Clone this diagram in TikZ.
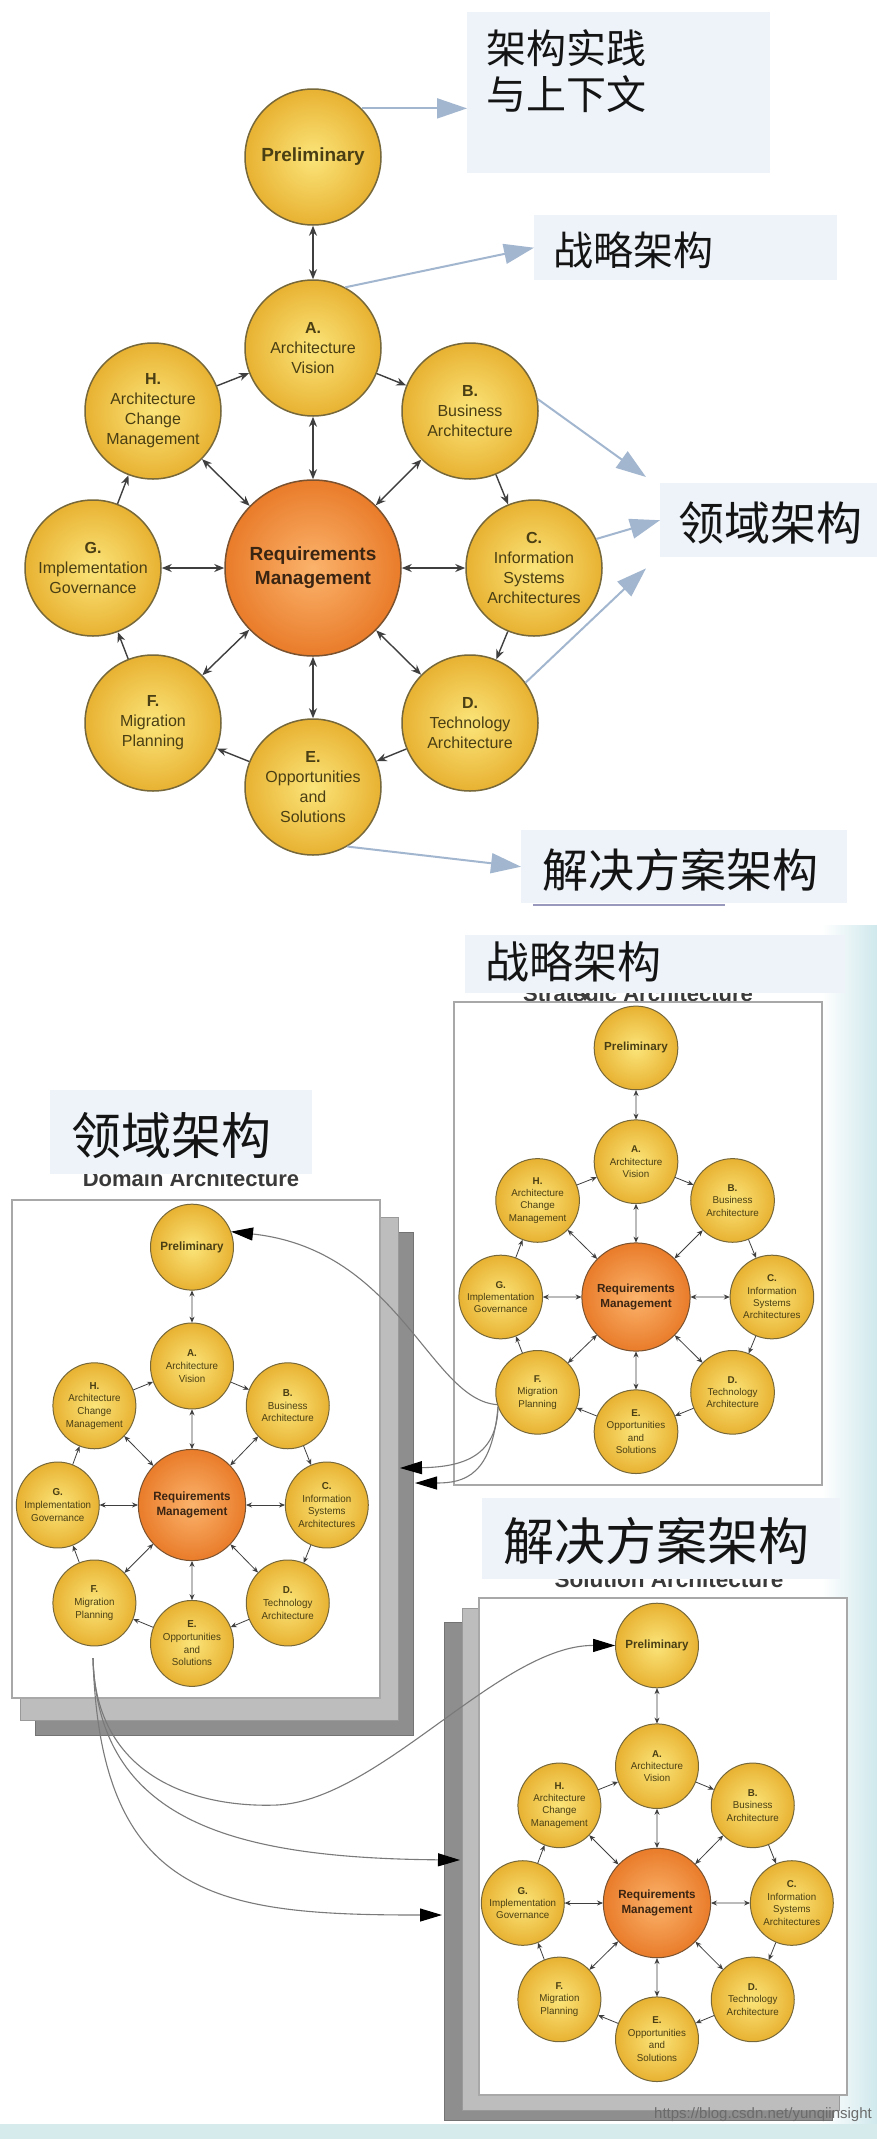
\documentclass[tikz,border=0pt]{standalone}
\usepackage{fontspec}
\setmainfont{Liberation Sans}
\newfontfamily\cjk{Noto Sans CJK SC}
\usetikzlibrary{arrows.meta}
\definecolor{ylin}{HTML}{FBE57A}
\definecolor{ylout}{HTML}{E8B232}
\definecolor{ylbd}{HTML}{76683A}
\definecolor{orin}{HTML}{FBB36C}
\definecolor{orout}{HTML}{E97C2A}
\definecolor{orbd}{HTML}{7A5230}
\definecolor{tgtext}{HTML}{4A3F14}
\definecolor{rqtext}{HTML}{3A2412}
\definecolor{tgarrow}{HTML}{3F3F3F}
\definecolor{boxblue}{HTML}{EDF3F9}
\definecolor{bigarrowc}{HTML}{A2B7CF}
\definecolor{shlight}{HTML}{BDBDBD}
\definecolor{shdark}{HTML}{8E8E8E}
\definecolor{framegray}{HTML}{A8A8A8}
\definecolor{curvegray}{HTML}{7A7A7A}
\definecolor{decocyan}{HTML}{CFE8EC}
\definecolor{stripcyan}{HTML}{D6ECEC}
\definecolor{entext}{HTML}{3A3A3A}
\tikzset{
  yc/.style={circle, inner sep=0pt, minimum size=136pt, shade, inner color=ylin, outer color=ylout, draw=ylbd, text=tgtext, align=center, font=\fontsize{16}{20}\selectfont},
  ycT/.style={yc, line width=1.5pt},
  ycS/.style={yc, line width=1pt},
  rc/.style={circle, inner sep=0pt, minimum size=176pt, shade, inner color=orin, outer color=orout, draw=orbd, text=rqtext, align=center, font=\bfseries\fontsize{19}{24}\selectfont},
  rcT/.style={rc, line width=1.5pt},
  rcS/.style={rc, line width=1pt},
  tgaT/.style={draw=tgarrow, line width=1.4pt, -{Stealth[length=10pt,width=8pt]}},
  tgbT/.style={draw=tgarrow, line width=1.4pt, {Stealth[length=10pt,width=8pt]}-{Stealth[length=10pt,width=8pt]}},
  tgaS/.style={draw=tgarrow, line width=0.8pt, -{Stealth[length=6pt,width=5pt]}},
  tgbS/.style={draw=tgarrow, line width=0.8pt, {Stealth[length=6pt,width=5pt]}-{Stealth[length=6pt,width=5pt]}},
  lbox/.style={fill=boxblue, inner sep=0pt, draw=none},
  zh/.style={inner sep=0pt, text=black!92},
  entitle/.style={inner sep=0pt, text=entext, font=\bfseries\fontsize{22}{22}\selectfont},
  bigarrow/.style={draw=bigarrowc, line width=2pt, -{Triangle[length=30pt,width=20pt]}},
  curvearrow/.style={draw=curvegray, line width=1.1pt, -{Triangle[length=22pt,width=13pt,color=black]}},
  frontframe/.style={draw=framegray, fill=white, line width=1.2pt},
}
\newcommand{\togaf}[6]{%
  \begin{scope}[shift={#2}, xscale=#3, yscale=#4, transform shape]
    \node[yc#6] (#1-P) at (0,#5) {\bfseries\fontsize{19}{24}\selectfont Preliminary};
    \node[yc#6] (#1-A) at (0,-220) {\textbf{A.}\\Architecture\\Vision};
    \node[yc#6] (#1-B) at (157,-157) {\textbf{B.}\\Business\\Architecture};
    \node[yc#6] (#1-C) at (221,0) {\textbf{C.}\\Information\\Systems\\Architectures};
    \node[yc#6] (#1-D) at (157,155) {\textbf{D.}\\Technology\\Architecture};
    \node[yc#6] (#1-E) at (0,219) {\textbf{E.}\\Opportunities\\and\\Solutions};
    \node[yc#6] (#1-F) at (-160,155) {\textbf{F.}\\Migration\\Planning};
    \node[yc#6] (#1-G) at (-220,0) {\textbf{G.}\\Implementation\\Governance};
    \node[yc#6] (#1-H) at (-160,-157) {\textbf{H.}\\Architecture\\Change\\Management};
    \node[rc#6] (#1-R) at (0,0) {Requirements\\Management};
  \end{scope}
  \draw[tgb#6] (#1-P) -- (#1-A);
  \foreach \n in {A,B,C,D,E,F,G,H} {\draw[tgb#6] (#1-R) -- (#1-\n);}
  \draw[tga#6] (#1-A) -- (#1-B);
  \draw[tga#6] (#1-B) -- (#1-C);
  \draw[tga#6] (#1-C) -- (#1-D);
  \draw[tga#6] (#1-D) -- (#1-E);
  \draw[tga#6] (#1-E) -- (#1-F);
  \draw[tga#6] (#1-F) -- (#1-G);
  \draw[tga#6] (#1-G) -- (#1-H);
  \draw[tga#6] (#1-H) -- (#1-A);
}
\begin{document}
\begin{tikzpicture}[x=1pt,y=-1pt]
\useasboundingbox (0,0) rectangle (877,2139);
\fill[white] (0,0) rectangle (877,2139);
\shade[left color=white, right color=decocyan] (822,925) rectangle (877,2124);
\fill[stripcyan] (0,2124) rectangle (877,2139);

% ---------- top section ----------
\node[lbox, anchor=north west, minimum width=303pt, minimum height=161pt] (b1) at (467,12) {};
\node[lbox, anchor=north west, minimum width=303pt, minimum height=65pt] (b2) at (534,215) {};
\node[lbox, anchor=north west, minimum width=217pt, minimum height=74pt] (b3) at (660,483) {};
\node[lbox, anchor=north west, minimum width=326pt, minimum height=73pt] (b4) at (521,830) {};
\draw[line width=1.5pt, draw=black!65!blue!40] (533,905) -- (725,905);

\node[zh, anchor=base west, font=\cjk\fontsize{40}{40}\selectfont] (z1) at (486,63) {架构实践};
\node[zh, anchor=base west, font=\cjk\fontsize{40}{40}\selectfont] (z2) at (486,109) {与上下文};
\node[zh, anchor=base west, font=\cjk\fontsize{40}{40}\selectfont] (z3) at (553,265) {战略架构};
\node[zh, anchor=base west, font=\cjk\fontsize{46}{46}\selectfont] (z4) at (678,540) {领域架构};
\node[zh, anchor=base west, font=\cjk\fontsize{46}{46}\selectfont] (z5) at (542,887) {解决方案架构};

\togaf{t}{(313,568)}{1}{1}{-411}{T}

\draw[bigarrow] (t-P.45) -- (t-P.45 -| b1.west);
\draw[bigarrow] (t-A.62) -- (b2.west);
\draw[bigarrow] (t-B.10) -- ([xshift=-14pt,yshift=6pt]b3.north west);
\draw[bigarrow] (t-C.25) -- (b3.west);
\draw[bigarrow] (t-D.36) -- ([xshift=-14pt,yshift=-11pt]b3.south west);
\draw[bigarrow] (t-E.-60) -- (b4.west);

% ---------- strategic ----------
\node[entitle, anchor=base] (sen) at (638,1001) {Strategic Architecture};
\node[lbox, anchor=north west, minimum width=380pt, minimum height=58pt] (sb) at (465,935) {};
\node[zh, anchor=base west, font=\cjk\fontsize{44}{44}\selectfont] (sz) at (485,978) {战略架构};
\draw[frontframe] (454,1002) rectangle (822,1485);
\fill[black!75] (580,994) -- (590,994) -- (585,1001) -- cycle;
\togaf{s}{(636,1297)}{0.615}{0.615}{-405}{S}

% ---------- domain ----------
\node[entitle, anchor=base] (den) at (191,1186) {Domain Architecture};
\node[lbox, anchor=north west, minimum width=262pt, minimum height=84pt] (db) at (50,1090) {};
\node[zh, anchor=base west, font=\cjk\fontsize{50}{50}\selectfont] (dz) at (71,1154) {领域架构};
\fill[shdark, draw=black!55] (35,1232) rectangle (413,1735);
\fill[shlight, draw=black!40] (20,1217) rectangle (398,1720);
\draw[frontframe] (12,1200) rectangle (380,1698);
\togaf{d}{(192,1505)}{0.61}{0.632}{-408}{S}

% ---------- solution ----------
\node[entitle, anchor=base, font=\bfseries\fontsize{22.5}{22.5}\selectfont] (len) at (669,1587) {Solution Architecture};
\node[lbox, anchor=north west, minimum width=358pt, minimum height=81pt] (lb) at (482,1498) {};
\node[zh, anchor=base west, font=\cjk\fontsize{51}{51}\selectfont] (lz) at (503,1560) {解决方案架构};
\fill[shdark, draw=black!55] (444,1622) rectangle (832,2120);
\fill[shlight, draw=black!40] (462,1608) rectangle (839,2110);
\draw[frontframe] (479,1598) rectangle (847,2095);
\togaf{l}{(657,1903)}{0.61}{0.622}{-414}{S}

% ---------- connectors between frames ----------
\coordinate (d-in1) at (400,1468);
\coordinate (d-in2) at (415,1483);
\coordinate (d-out) at (93,1658);
\coordinate (l-in1) at (460,1860);
\coordinate (l-in2) at (442,1915);
\draw[curvearrow] (s-F.197) .. controls (430,1400) and (400,1250) .. (d-P.21);
\draw[curvearrow] (s-F.200) .. controls (497,1455) and (465,1467) .. (d-in1);
\draw[curvearrow] (s-F.200) .. controls (492,1475) and (465,1483) .. (d-in2);
\draw[curvearrow] (d-out) .. controls (95,1780) and (200,1808) .. (277,1805) .. controls (380,1800) and (500,1645) .. (l-P.west);
\draw[curvearrow] (d-out) .. controls (98,1820) and (230,1858) .. (l-in1);
\draw[curvearrow] (d-out) .. controls (100,1900) and (220,1915) .. (l-in2);

\node[anchor=base east, inner sep=0pt, text=black!58, font=\fontsize{15}{15}\selectfont] (wm) at (872,2118) {https://blog.csdn.net/yunqiinsight};
\end{tikzpicture}
\end{document}
